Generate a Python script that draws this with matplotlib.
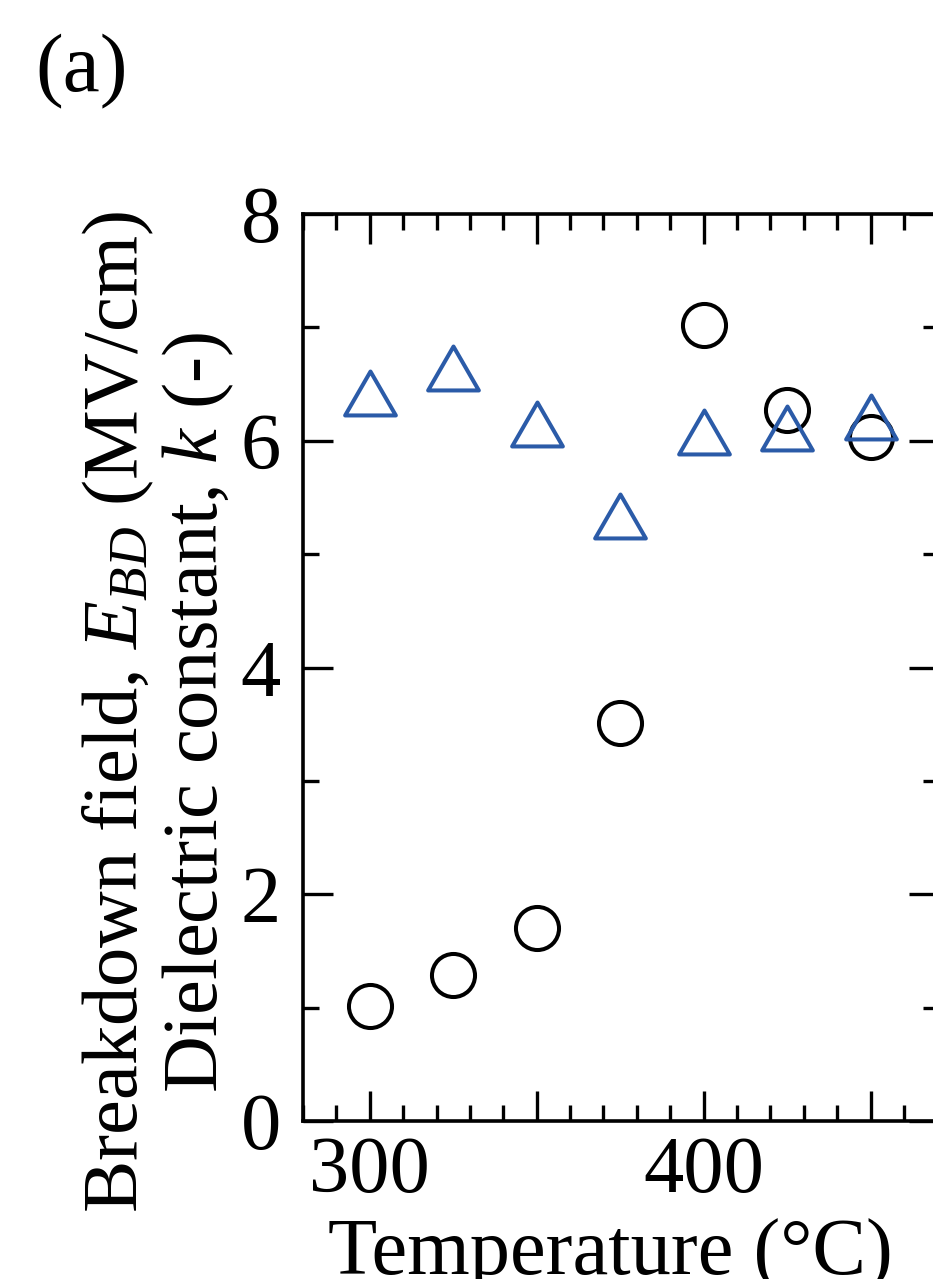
import matplotlib
matplotlib.use("Agg")
import matplotlib.pyplot as plt
from matplotlib.path import Path
from matplotlib.markers import MarkerStyle
from matplotlib.ticker import MultipleLocator, FuncFormatter

# ---- data ----
temperature = [300, 325, 350, 375, 400, 425, 450]
breakdown_field = [1.01, 1.29, 1.70, 3.51, 7.02, 6.27, 6.03]
dielectric_const = [6.42, 6.64, 6.15, 5.34, 6.08, 6.11, 6.21]
xlim = (280, 470.5)
ylim = (0, 8)
y_major = [0, 2, 4, 6, 8]
x_label = "Temperature (°C)"
y_label_1 = r"Breakdown field, $E_{BD}$ (MV/cm)"
y_label_2 = r"Dielectric constant, $k$ (-)"
panel = "(a)"

plt.rcParams["font.family"] = ["Liberation Serif", "DejaVu Serif"]
plt.rcParams["mathtext.fontset"] = "custom"
plt.rcParams["mathtext.rm"] = "Liberation Serif"
plt.rcParams["mathtext.it"] = "Liberation Serif:italic"

W, H = 933, 1279
fig = plt.figure(figsize=(W / 100, H / 100), dpi=100)
ax = fig.add_axes([303 / W, (H - 1121) / H, 636 / W, 907 / H])

blue = "#2B5BA8"
tri = Path([(0, 0.433), (-0.5, -0.433), (0.5, -0.433), (0, 0.433)],
           [Path.MOVETO, Path.LINETO, Path.LINETO, Path.CLOSEPOLY])
tri_marker = MarkerStyle(tri, joinstyle="miter")

ax.plot(temperature, breakdown_field, linestyle="none", marker="o",
        ms=31, mfc="none", mec="black", mew=2.9, clip_on=False)
ax.plot(temperature, dielectric_const, linestyle="none", marker=tri_marker,
        ms=36.5, mfc="none", mec=blue, mew=2.9, clip_on=False)

ax.set_xlim(*xlim)
ax.set_ylim(*ylim)
ax.xaxis.set_major_locator(MultipleLocator(50))
ax.xaxis.set_minor_locator(MultipleLocator(10))
ax.xaxis.set_major_formatter(FuncFormatter(lambda v, p: f"{int(v)}" if int(round(v)) % 100 == 0 else ""))
ax.set_yticks(y_major)
ax.yaxis.set_minor_locator(MultipleLocator(1))

for s in ax.spines.values():
    s.set_linewidth(2.6)
ax.tick_params(which="both", direction="in", top=True, right=True, width=2.4,
               labelsize=58)
ax.tick_params(which="major", length=21.5)
ax.tick_params(which="minor", length=11.5)
ax.tick_params(axis="y", which="major", pad=16)
ax.tick_params(axis="x", which="major", pad=11)

fs = 56.5
fig.text(610 / W, (H - 1275) / H, x_label, fontsize=58, ha="center", va="baseline")
fig.text(137 / W, (H - 712) / H, y_label_1, fontsize=fs, rotation=90,
         rotation_mode="anchor", ha="center", va="baseline")
fig.text(217 / W, (H - 712) / H, y_label_2, fontsize=fs, rotation=90,
         rotation_mode="anchor", ha="center", va="baseline")
fig.text(35 / W, (H - 91) / H, panel, fontsize=60, ha="left", va="baseline")

fig.savefig("out.png", dpi=100)
